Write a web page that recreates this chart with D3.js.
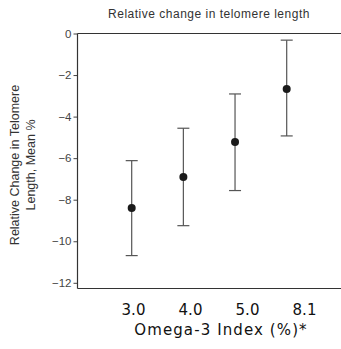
<!DOCTYPE html>
<html><head><meta charset="utf-8">
<script src="https://cdn.jsdelivr.net/npm/d3@7"></script>
<style>
html,body{margin:0;padding:0;background:#fff;}
svg{display:block;}
</style></head>
<body>
<script>
const categories = ["3.0", "4.0", "5.0", "8.1"];
const means = [-8.4, -6.91, -5.22, -2.67];
const upper = [-6.12, -4.56, -2.91, -0.32];
const lower = [-10.69, -9.25, -7.56, -4.93];
const yTicks = [0, -2, -4, -6, -8, -10, -12];
const title = "Relative change in telomere length";
const yLabelLines = ["Relative Change in Telomere", "Length, Mean %"];
const xLabel = "Omega-3 Index (%)*";

const W = 341, H = 349;
const svg = d3.select("body").append("svg").attr("width", W).attr("height", H);

const axisX = 77.5, plotRight = 341, axisBottom = 288.5;
const y = d3.scaleLinear().domain([0, -12]).range([33.5, 282.8]);
const x = d3.scalePoint().domain(categories).range([131.7, 286.7]);
const xl = d3.scalePoint().domain(categories).range([133, 304]);

// frame lines
svg.append("line").attr("x1", axisX).attr("x2", plotRight).attr("y1", y(0)).attr("y2", y(0))
  .attr("stroke", "#333").attr("stroke-width", 1.2);
svg.append("line").attr("x1", axisX).attr("x2", plotRight).attr("y1", axisBottom).attr("y2", axisBottom)
  .attr("stroke", "#333").attr("stroke-width", 1.2);

// y axis
const yAxis = d3.axisLeft(y).tickValues(yTicks).tickSize(4).tickPadding(2)
  .tickFormat(d => d === 0 ? "0" : "\u2212" + Math.abs(d));
const gy = svg.append("g").attr("transform", `translate(${axisX},0)`).call(yAxis);
gy.select(".domain").remove();
gy.append("line").attr("x1", 0).attr("x2", 0).attr("y1", y(0)).attr("y2", axisBottom)
  .attr("stroke", "#333").attr("stroke-width", 1.2);
gy.selectAll(".tick line").attr("stroke", "#444");
gy.selectAll(".tick text").attr("fill", "#444").style("font-family", "'Liberation Sans', Arial, sans-serif").style("font-size", "11.5px");

// error bars
const data = categories.map((c, i) => ({c, m: means[i], hi: upper[i], lo: lower[i]}));
const g = svg.append("g");
const capW = 6;
g.selectAll("line.v").data(data).join("line").attr("class", "v")
  .attr("x1", d => x(d.c)).attr("x2", d => x(d.c)).attr("y1", d => y(d.hi)).attr("y2", d => y(d.lo))
  .attr("stroke", "#555").attr("stroke-width", 1.2);
g.selectAll("line.t").data(data).join("line").attr("class", "t")
  .attr("x1", d => x(d.c) - capW).attr("x2", d => x(d.c) + capW).attr("y1", d => y(d.hi)).attr("y2", d => y(d.hi))
  .attr("stroke", "#555").attr("stroke-width", 1.2);
g.selectAll("line.b").data(data).join("line").attr("class", "b")
  .attr("x1", d => x(d.c) - capW).attr("x2", d => x(d.c) + capW).attr("y1", d => y(d.lo)).attr("y2", d => y(d.lo))
  .attr("stroke", "#555").attr("stroke-width", 1.2);
g.selectAll("circle").data(data).join("circle")
  .attr("cx", d => x(d.c)).attr("cy", d => y(d.m)).attr("r", 4).attr("fill", "#1a1a1a");

// x axis labels
const xAxis = d3.axisBottom(xl).tickSize(0).tickPadding(0);
const gx = svg.append("g").attr("transform", "translate(0,304)").call(xAxis);
gx.select(".domain").remove();
gx.selectAll(".tick text").attr("fill", "#111")
  .style("font-family", "'DejaVu Sans', Verdana, sans-serif").style("font-size", "15px");

svg.append("text").attr("x", 221).attr("y", 335).attr("text-anchor", "middle")
  .style("font-family", "'DejaVu Sans', Verdana, sans-serif").style("font-size", "15px")
  .style("letter-spacing", "1.1px").attr("fill", "#111")
  .text(xLabel);

// title
svg.append("text").attr("x", 209).attr("y", 18).attr("text-anchor", "middle")
  .style("font-family", "'Liberation Sans', Arial, sans-serif").style("font-size", "12px")
  .style("letter-spacing", "0.5px").attr("fill", "#333")
  .text(title);

// y label
const yl = svg.append("text").attr("transform", "translate(0,165) rotate(-90)")
  .attr("text-anchor", "middle")
  .style("font-family", "'Liberation Sans', Arial, sans-serif").style("font-size", "12.5px").attr("fill", "#333");
yl.selectAll("tspan").data(yLabelLines).join("tspan")
  .attr("x", 0).attr("y", (d, i) => 19 + i * 16).text(d => d);
</script>
</body></html>
